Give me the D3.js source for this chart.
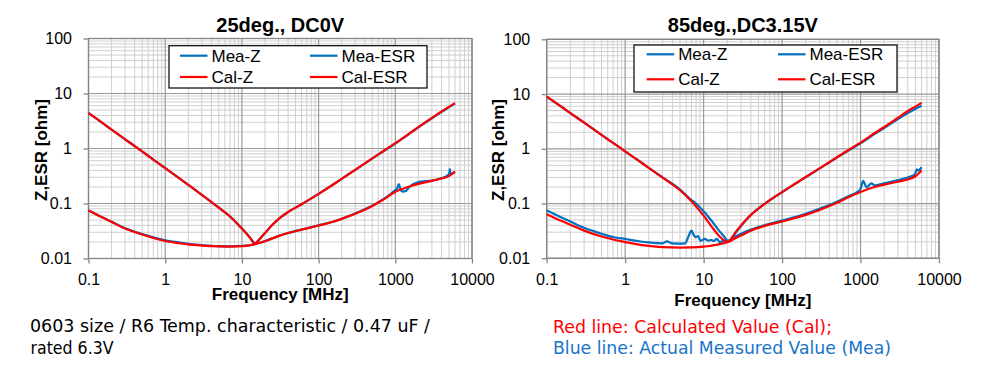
<!DOCTYPE html>
<html><head><meta charset="utf-8">
<script src="https://cdn.jsdelivr.net/npm/d3@7"></script>
<style>body{margin:0;background:#fff}svg{display:block}</style>
</head><body>
<svg id="c" width="986" height="369"></svg>
<script>
// ---------- data ----------
const xTickValues = [0.1, 1, 10, 100, 1000, 10000];
const xTickLabels = ["0.1", "1", "10", "100", "1000", "10000"];
const yTickValues = [0.01, 0.1, 1, 10, 100];
const yTickLabels = ["0.01", "0.1", "1", "10", "100"];
const legendLabels = ["Mea-Z", "Mea-ESR", "Cal-Z", "Cal-ESR"];
const titles = ["25deg., DC0V", "85deg.,DC3.15V"];
const xTitle = "Frequency [MHz]";
const yTitle = "Z,ESR [ohm]";
const noteLeft = ["0603 size / R6 Temp. characteristic / 0.47 uF /", "rated 6.3V"];
const noteRight = ["Red line: Calculated Value (Cal);", "Blue line: Actual Measured Value (Mea)"];

// [frequency MHz, ohm]
const leftMeaZ = [[0.1,4.4],[0.15,2.95],[0.2,2.2],[0.3,1.47],[0.5,0.885],[0.7,0.63],[1,0.44],[1.5,0.292],[2,0.218],[3,0.144],[5,0.084],[7,0.058],[10,0.035],[12,0.0265],[13.5,0.0215],[14.8,0.0185],[16,0.0205],[18,0.0245],[20,0.029],[25,0.041],[30,0.052],[40,0.07],[60,0.097],[100,0.15],[150,0.215],[200,0.28],[300,0.41],[500,0.655],[700,0.89],[1000,1.23],[1500,1.82],[2000,2.42],[3000,3.55],[4000,4.6],[5000,5.6],[6000,6.6]];
const leftMeaESR = [[0.1,0.075],[0.15,0.0565],[0.2,0.0465],[0.3,0.0355],[0.5,0.0278],[0.7,0.0242],[1,0.0214],[1.5,0.0196],[2,0.0185],[3,0.0176],[5,0.0168],[7,0.0166],[10,0.0169],[12,0.0173],[14,0.018],[16,0.0189],[20,0.0208],[25,0.0233],[30,0.0256],[40,0.029],[60,0.0336],[100,0.04],[150,0.0462],[200,0.053],[300,0.066],[500,0.091],[700,0.12],[850,0.145],[1000,0.175],[1060,0.19],[1110,0.226],[1170,0.18],[1240,0.165],[1360,0.168],[1520,0.2],[2000,0.245],[2500,0.255],[3000,0.262],[4000,0.288],[4800,0.325],[5050,0.35],[5130,0.42],[5250,0.34],[5600,0.355],[6000,0.375]];
const leftCalZ = [[0.1,4.4],[0.15,2.95],[0.2,2.2],[0.3,1.47],[0.5,0.885],[0.7,0.63],[1,0.44],[1.5,0.292],[2,0.218],[3,0.144],[5,0.084],[7,0.058],[10,0.035],[12,0.0265],[13.5,0.0215],[14.8,0.0184],[16,0.0205],[18,0.0245],[20,0.029],[25,0.041],[30,0.052],[40,0.07],[60,0.097],[100,0.15],[150,0.215],[200,0.28],[300,0.41],[500,0.66],[700,0.9],[1000,1.25],[1500,1.85],[2000,2.45],[3000,3.6],[4000,4.7],[5000,5.7],[6000,6.7]];
const leftCalESR = [[0.1,0.075],[0.15,0.056],[0.2,0.046],[0.3,0.035],[0.5,0.0273],[0.7,0.0236],[1,0.0208],[1.5,0.019],[2,0.018],[3,0.0172],[5,0.0166],[7,0.0165],[10,0.0168],[12,0.0172],[14,0.0179],[16,0.0188],[20,0.0206],[25,0.0232],[30,0.0255],[40,0.029],[60,0.0335],[100,0.0398],[150,0.046],[200,0.0526],[300,0.065],[500,0.09],[700,0.118],[1000,0.163],[1500,0.202],[2000,0.228],[3000,0.258],[4000,0.285],[5000,0.315],[6000,0.38]];

const rightMeaZ = [[0.1,9.0],[0.15,6.0],[0.2,4.5],[0.3,3.0],[0.5,1.8],[0.7,1.28],[1,0.9],[1.5,0.6],[2,0.45],[3,0.3],[5,0.18],[6.7,0.122],[8,0.1],[10,0.072],[11,0.062],[13,0.046],[16,0.031],[18,0.0255],[20.3,0.021],[22,0.0215],[25,0.028],[30,0.039],[40,0.062],[60,0.099],[100,0.162],[150,0.234],[200,0.302],[300,0.435],[500,0.69],[700,0.93],[1000,1.26],[1500,1.85],[2000,2.4],[3000,3.5],[4000,4.5],[5000,5.35],[6000,6.1]];
const rightMeaESR = [[0.1,0.075],[0.15,0.057],[0.2,0.047],[0.3,0.036],[0.5,0.028],[0.7,0.0245],[1,0.0225],[1.5,0.0205],[2,0.0195],[3,0.0188],[3.4,0.0203],[4,0.0188],[5,0.0185],[5.8,0.0188],[6.4,0.025],[7,0.032],[7.5,0.0265],[7.9,0.0243],[8.5,0.0254],[9.1,0.0208],[10.4,0.0226],[11.5,0.021],[12.6,0.0216],[13.5,0.0208],[14.8,0.0226],[16,0.0198],[18,0.0208],[20.3,0.0203],[25,0.0245],[30,0.028],[40,0.0335],[60,0.0405],[100,0.049],[150,0.057],[200,0.065],[300,0.08],[500,0.108],[700,0.136],[900,0.162],[1000,0.185],[1079,0.26],[1190,0.2],[1380,0.234],[1500,0.215],[2000,0.235],[3000,0.268],[4000,0.3],[4800,0.33],[5000,0.36],[5200,0.42],[5400,0.4],[6000,0.46]];
const rightCalZ = [[0.1,9.0],[0.15,6.0],[0.2,4.5],[0.3,3.0],[0.5,1.8],[0.7,1.28],[1,0.9],[1.5,0.6],[2,0.45],[3,0.298],[5,0.175],[7,0.11],[10,0.06],[11,0.05],[13,0.036],[16,0.025],[18,0.0215],[20.5,0.0198],[23,0.024],[26,0.031],[30,0.04],[40,0.062],[60,0.099],[100,0.162],[150,0.235],[200,0.305],[300,0.44],[500,0.7],[700,0.95],[1000,1.3],[1500,1.92],[2000,2.5],[3000,3.7],[4000,4.9],[5000,5.9],[6000,6.9]];
const rightCalESR = [[0.1,0.064],[0.15,0.049],[0.2,0.041],[0.3,0.032],[0.5,0.025],[0.7,0.022],[1,0.0198],[1.5,0.0178],[2,0.0168],[3,0.016],[5,0.0157],[7,0.0158],[10,0.0163],[12,0.0168],[14,0.0175],[16,0.0182],[20.5,0.0198],[25,0.023],[30,0.026],[40,0.032],[60,0.039],[100,0.047],[150,0.055],[200,0.062],[300,0.076],[500,0.103],[700,0.13],[1000,0.163],[1500,0.2],[2000,0.222],[3000,0.25],[4000,0.275],[5000,0.315],[6000,0.4]];

// ---------- drawing ----------
const RED = "#ff0000", BLUE = "#0070c0";
const FONT = "'Liberation Sans', Arial, sans-serif";
const svg = d3.select("#c");

const charts = [
  { x0: 88.5, x1: 472, y0: 38.5, y1: 258.5, title: titles[0], titleY: 32.3, xTitleY: 300, yTitleX: 46.5,
    legend: { x: 169, y: 45.7, w: 258, h: 42.3, c1: 180, c2: 310, rows: [55.7, 77] },
    series: [leftMeaZ, leftMeaESR, leftCalZ, leftCalESR] },
  { x0: 546.7, x1: 939, y0: 39.3, y1: 258.3, title: titles[1], titleY: 32, xTitleY: 305.5, yTitleX: 504,
    legend: { x: 634, y: 45, w: 263, h: 47, c1: 646.7, c2: 778, rows: [54.3, 79.3] },
    series: [rightMeaZ, rightMeaESR, rightCalZ, rightCalESR] }
];
const seriesColors = [BLUE, BLUE, RED, RED];

charts.forEach(c => {
  const g = svg.append("g");
  const x = d3.scaleLog().domain([0.1, 10000]).range([c.x0, c.x1]);
  const y = d3.scaleLog().domain([0.01, 100]).range([c.y1, c.y0]);
  const isMajor = v => Math.abs(Math.log10(v) - Math.round(Math.log10(v))) < 1e-9;

  // grid
  const xg = x.ticks(), yg = y.ticks();
  g.append("g").selectAll("line").data(xg.filter(v => !isMajor(v))).join("line")
    .attr("x1", d => x(d)).attr("x2", d => x(d)).attr("y1", c.y0).attr("y2", c.y1)
    .attr("stroke", "#cfcfcf").attr("stroke-width", 1);
  g.append("g").selectAll("line").data(yg.filter(v => !isMajor(v))).join("line")
    .attr("y1", d => y(d)).attr("y2", d => y(d)).attr("x1", c.x0).attr("x2", c.x1)
    .attr("stroke", "#cfcfcf").attr("stroke-width", 1);
  g.append("g").selectAll("line").data(xg.filter(isMajor)).join("line")
    .attr("x1", d => x(d)).attr("x2", d => x(d)).attr("y1", c.y0).attr("y2", c.y1)
    .attr("stroke", "#9a9a9a").attr("stroke-width", 1.2);
  g.append("g").selectAll("line").data(yg.filter(isMajor)).join("line")
    .attr("y1", d => y(d)).attr("y2", d => y(d)).attr("x1", c.x0).attr("x2", c.x1)
    .attr("stroke", "#9a9a9a").attr("stroke-width", 1.2);

  // frame
  g.append("rect").attr("x", c.x0).attr("y", c.y0).attr("width", c.x1 - c.x0).attr("height", c.y1 - c.y0)
    .attr("fill", "none").attr("stroke", "#858585").attr("stroke-width", 1.3);

  // axes
  const ax = g.append("g").attr("transform", `translate(0,${c.y1})`)
    .call(d3.axisBottom(x).tickValues(xTickValues).tickFormat((d, i) => xTickLabels[i]).tickSize(5).tickPadding(10.5));
  const ay = g.append("g").attr("transform", `translate(${c.x0},0)`)
    .call(d3.axisLeft(y).tickValues(yTickValues).tickFormat((d, i) => yTickLabels[i]).tickSize(5).tickPadding(11.5));
  [ax, ay].forEach(a => {
    a.select(".domain").remove();
    a.selectAll("line").attr("stroke", "#858585").attr("stroke-width", 1.3);
    a.selectAll("text").attr("font-family", FONT).attr("font-size", 16).attr("fill", "#000");
  });

  // series
  const line = d3.line().x(d => x(d[0])).y(d => y(d[1])).curve(d3.curveMonotoneX);
  c.series.forEach((s, i) => {
    g.append("path").datum(s).attr("d", line).attr("fill", "none")
      .attr("stroke", seriesColors[i]).attr("stroke-width", 2.2).attr("stroke-linejoin", "round");
  });

  // titles
  g.append("text").attr("x", (c.x0 + c.x1) / 2).attr("y", c.titleY).attr("text-anchor", "middle")
    .attr("font-family", FONT).attr("font-weight", "bold").attr("font-size", 20).text(c.title);
  g.append("text").attr("x", (c.x0 + c.x1) / 2).attr("y", c.xTitleY).attr("text-anchor", "middle")
    .attr("font-family", FONT).attr("font-weight", "bold").attr("font-size", 17).text(xTitle);
  g.append("text").attr("transform", `translate(${c.yTitleX},150) rotate(-90)`).attr("text-anchor", "middle")
    .attr("font-family", FONT).attr("font-weight", "bold").attr("font-size", 17).text(yTitle);

  // legend
  const L = c.legend;
  g.append("rect").attr("x", L.x).attr("y", L.y).attr("width", L.w).attr("height", L.h)
    .attr("fill", "#fff").attr("stroke", "#000").attr("stroke-width", 1.2);
  legendLabels.forEach((lab, i) => {
    const cx = i % 2 === 0 ? L.c1 : L.c2;
    const cy = L.rows[Math.floor(i / 2)];
    g.append("line").attr("x1", cx).attr("x2", cx + 27.5).attr("y1", cy).attr("y2", cy)
      .attr("stroke", seriesColors[i]).attr("stroke-width", 2.2);
    g.append("text").attr("x", cx + 31.5).attr("y", cy).attr("dy", "0.36em")
      .attr("font-family", FONT).attr("font-size", 17).text(lab);
  });
});

// notes
const NOTEFONT = "'DejaVu Sans Condensed', 'DejaVu Sans', sans-serif";
const noteL = [[30, 331.7, 400], [30.5, 354, 83]];
noteLeft.forEach((t, i) => {
  svg.append("text").attr("x", noteL[i][0]).attr("y", noteL[i][1]).attr("font-family", NOTEFONT)
    .attr("font-size", 17).attr("fill", "#000").attr("textLength", noteL[i][2])
    .attr("lengthAdjust", "spacingAndGlyphs").text(t);
});
const noteR = [[553, 333.3, 279, RED], [553, 354.3, 338, "#1a74c8"]];
noteRight.forEach((t, i) => {
  svg.append("text").attr("x", noteR[i][0]).attr("y", noteR[i][1]).attr("font-family", NOTEFONT)
    .attr("font-size", 17).attr("fill", noteR[i][3]).attr("textLength", noteR[i][2])
    .attr("lengthAdjust", "spacingAndGlyphs").text(t);
});
</script>
</body></html>
